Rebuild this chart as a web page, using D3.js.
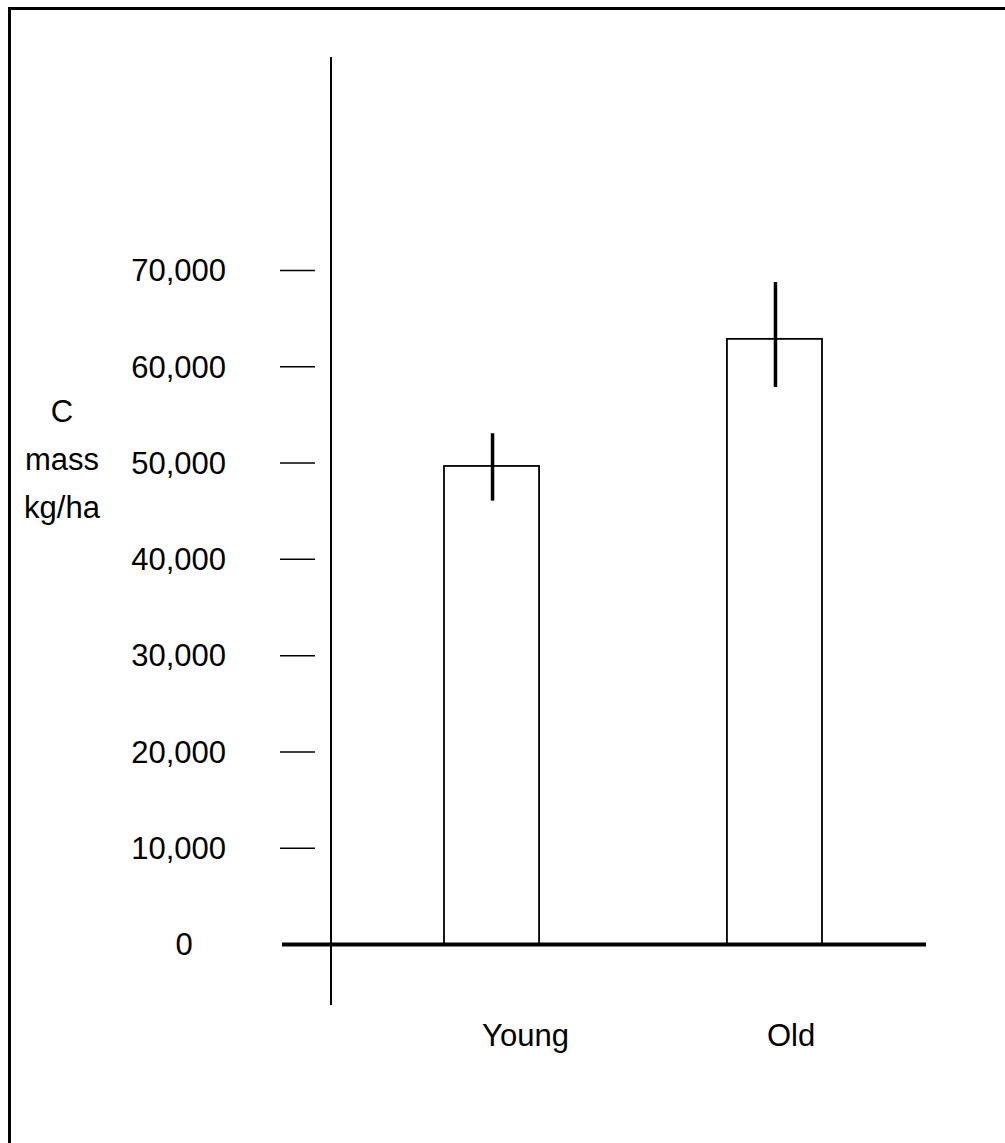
<!DOCTYPE html>
<html>
<head>
<meta charset="utf-8">
<script src="https://cdn.jsdelivr.net/npm/d3@7"></script>
<style>
  html, body { margin: 0; padding: 0; background: #fff; }
  svg text { font-family: Arial, "Liberation Sans", sans-serif; font-size: 31px; fill: #000; }
</style>
</head>
<body>
<svg id="chart" width="1005" height="1143"></svg>
<script>
// chart data
const categories = ["Young", "Old"];
const carbonMass = [49700, 62900];
const errorPlus = [3400, 5900];
const errorMinus = [3600, 5000];
const tickValues = [0, 10000, 20000, 30000, 40000, 50000, 60000, 70000];
const yTitleLines = ["C", "mass", "kg/ha"];

const width = 1005, height = 1143;
const svg = d3.select("#chart");

// frame (cut off at right and bottom)
svg.append("rect")
    .attr("x", 9.5).attr("y", 8.5)
    .attr("width", 1200).attr("height", 1300)
    .attr("fill", "none")
    .attr("stroke", "#000")
    .attr("stroke-width", 3);

const y = d3.scaleLinear()
    .domain([0, 70000])
    .range([944.5, 270.5]);

const x = d3.scaleBand()
    .domain(categories)
    .range([444, 822])
    .paddingInner(0.664)
    .paddingOuter(0);

// category labels sit a bit right of the bars
const xLabel = d3.scalePoint()
    .domain(categories)
    .range([525.5, 791]);

// y axis line
svg.append("line")
    .attr("x1", 331).attr("x2", 331)
    .attr("y1", 57).attr("y2", 1005)
    .attr("stroke", "#000")
    .attr("stroke-width", 2);

// tick marks, detached from the axis
svg.selectAll("line.tick")
    .data(tickValues.filter(d => d > 0))
    .join("line")
    .attr("class", "tick")
    .attr("x1", 280).attr("x2", 315)
    .attr("y1", d => y(d)).attr("y2", d => y(d))
    .attr("stroke", "#000")
    .attr("stroke-width", 1.5);

// tick labels
svg.selectAll("text.tlabel")
    .data(tickValues)
    .join("text")
    .attr("class", "tlabel")
    .attr("x", d => d === 0 ? 184 : 226)
    .attr("y", d => y(d))
    .attr("dy", "0.35em")
    .attr("text-anchor", d => d === 0 ? "middle" : "end")
    .text(d3.format(","));

// y title
svg.selectAll("text.ytitle")
    .data(yTitleLines)
    .join("text")
    .attr("class", "ytitle")
    .attr("x", 62)
    .attr("y", (d, i) => 421.5 + i * 48)
    .attr("text-anchor", "middle")
    .text(d => d);

// bars
svg.selectAll("rect.bar")
    .data(categories)
    .join("rect")
    .attr("class", "bar")
    .attr("x", d => x(d))
    .attr("width", x.bandwidth())
    .attr("y", (d, i) => y(carbonMass[i]))
    .attr("height", (d, i) => y(0) - y(carbonMass[i]))
    .attr("fill", "#fff")
    .attr("stroke", "#000")
    .attr("stroke-width", 1.8);

// baseline
svg.append("line")
    .attr("x1", 282).attr("x2", 926)
    .attr("y1", y(0)).attr("y2", y(0))
    .attr("stroke", "#000")
    .attr("stroke-width", 4);

// error bars
svg.selectAll("line.err")
    .data(categories)
    .join("line")
    .attr("class", "err")
    .attr("x1", d => x(d) + x.bandwidth() / 2 + 1)
    .attr("x2", d => x(d) + x.bandwidth() / 2 + 1)
    .attr("y1", (d, i) => y(carbonMass[i] + errorPlus[i]))
    .attr("y2", (d, i) => y(carbonMass[i] - errorMinus[i]))
    .attr("stroke", "#000")
    .attr("stroke-width", 3.5);

// category labels
svg.selectAll("text.xlabel")
    .data(categories)
    .join("text")
    .attr("class", "xlabel")
    .attr("x", d => xLabel(d))
    .attr("y", 1046)
    .attr("text-anchor", "middle")
    .text(d => d);
</script>
</body>
</html>
